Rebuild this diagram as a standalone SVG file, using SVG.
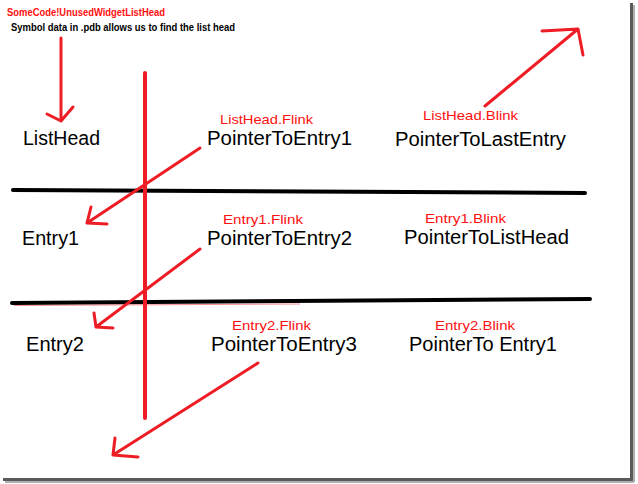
<svg xmlns="http://www.w3.org/2000/svg" width="638" height="484" viewBox="0 0 638 484">
<style>
.bg{fill:#ffffff}
.frame{fill:none;stroke:#5a5a5a;stroke-width:3}
.shadow{fill:none;stroke:#b0b0b0;stroke-width:2}
.node{font-family:"Liberation Sans",Arial,sans-serif;font-size:20px;fill:#000}
.lbl{font-family:"Liberation Sans",Arial,sans-serif;font-size:13px;fill:#ff1010}
.title{font-family:"Liberation Sans",Arial,sans-serif;font-size:11px;font-weight:bold}
.red{fill:none;stroke:#ee1c25;stroke-width:3;stroke-linecap:round;stroke-linejoin:round}
.redthick{fill:none;stroke:#ee1c25;stroke-width:4;stroke-linecap:round}
.black{fill:none;stroke:#000;stroke-width:4;stroke-linecap:round}
</style>
<rect class="bg" x="0" y="0" width="638" height="484"/>
<g id="frame">
<path class="shadow" d="M634 5 V482 M5 482 H634"/>
<path class="frame" d="M631.5 3 V479.5 H3"/>
</g>
<g id="header">
<text class="title" x="7" y="16" fill="#ff1010" textLength="158" lengthAdjust="spacingAndGlyphs">SomeCode!UnusedWidgetListHead</text>
<text class="title" x="11" y="31" fill="#000" textLength="224" lengthAdjust="spacingAndGlyphs">Symbol data in .pdb allows us to find the list head</text>
</g>
<g id="dividers">
<path class="black" d="M13 190 L585 193"/>
<path class="black" d="M12 303 L590 299"/>
<path d="M14 305.5 L300 304" fill="none" stroke="#ee1c25" stroke-width="1" opacity="0.5"/>
<path class="redthick" d="M145 73 V418"/>
</g>
<g id="ListHead"><text class="node" x="23" y="145" textLength="77" lengthAdjust="spacingAndGlyphs">ListHead</text></g>
<g id="PointerToEntry1"><text class="node" x="207" y="145" textLength="145" lengthAdjust="spacingAndGlyphs">PointerToEntry1</text></g>
<g id="PointerToLastEntry"><text class="node" x="395" y="146" textLength="171" lengthAdjust="spacingAndGlyphs">PointerToLastEntry</text></g>
<g id="Entry1"><text class="node" x="22" y="245" textLength="57" lengthAdjust="spacingAndGlyphs">Entry1</text></g>
<g id="PointerToEntry2"><text class="node" x="207" y="245" textLength="145" lengthAdjust="spacingAndGlyphs">PointerToEntry2</text></g>
<g id="PointerToListHead"><text class="node" x="404" y="244" textLength="165" lengthAdjust="spacingAndGlyphs">PointerToListHead</text></g>
<g id="Entry2"><text class="node" x="26" y="351" textLength="58" lengthAdjust="spacingAndGlyphs">Entry2</text></g>
<g id="PointerToEntry3"><text class="node" x="211" y="351" textLength="146" lengthAdjust="spacingAndGlyphs">PointerToEntry3</text></g>
<g id="PointerToEntry1b"><text class="node" x="409" y="351" textLength="148" lengthAdjust="spacingAndGlyphs">PointerTo Entry1</text></g>
<g id="connectors">
<path class="red" d="M61 38 V120 M47 114 L61 121 L73 107"/>
<path class="red" d="M485 106 L578 29 M542 31 L578 29 L583 55"/>
<path class="red" d="M200 148 L87 223 M91 207 L87 223 L107 224"/>
<path class="red" d="M200 249 L96 327 M94 313 L96 327 L113 328"/>
<path class="red" d="M258 363 L113 455 M115 438 L113 455 L138 457"/>
<text class="lbl" x="220" y="124" textLength="93" lengthAdjust="spacingAndGlyphs">ListHead.Flink</text>
<text class="lbl" x="423" y="120" textLength="95" lengthAdjust="spacingAndGlyphs">ListHead.Blink</text>
<text class="lbl" x="223" y="224" textLength="80" lengthAdjust="spacingAndGlyphs">Entry1.Flink</text>
<text class="lbl" x="425" y="223" textLength="81" lengthAdjust="spacingAndGlyphs">Entry1.Blink</text>
<text class="lbl" x="232" y="330" textLength="79" lengthAdjust="spacingAndGlyphs">Entry2.Flink</text>
<text class="lbl" x="435" y="330" textLength="80" lengthAdjust="spacingAndGlyphs">Entry2.Blink</text>
</g>
</svg>
